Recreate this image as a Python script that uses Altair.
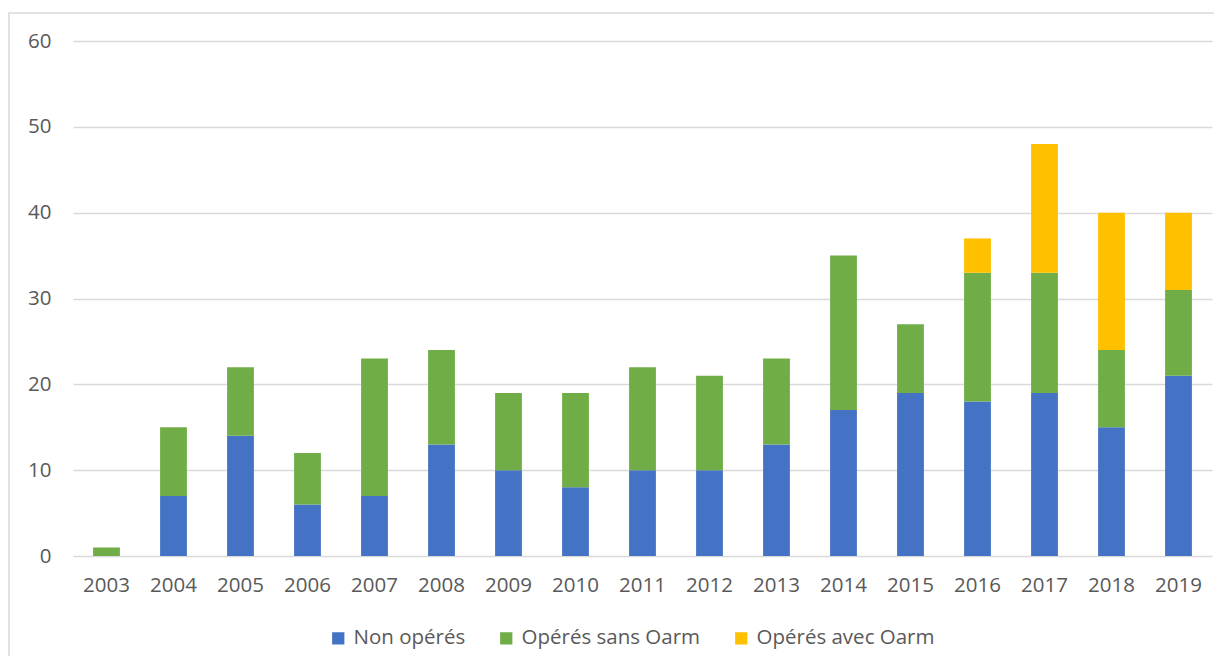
import altair as alt
import pandas as pd

years = [str(y) for y in range(2003, 2020)]
non_operes = [0, 7, 14, 6, 7, 13, 10, 8, 10, 10, 13, 17, 19, 18, 19, 15, 21]
sans_oarm = [1, 8, 8, 6, 16, 11, 9, 11, 12, 11, 10, 18, 8, 15, 14, 9, 10]
avec_oarm = [0, 0, 0, 0, 0, 0, 0, 0, 0, 0, 0, 0, 0, 4, 15, 16, 9]

series = ["Non opérés", "Opérés sans Oarm", "Opérés avec Oarm"]
colors = ["#4472C4", "#70AD47", "#FFC000"]

rows = []
for i, y in enumerate(years):
    for k, (name, vals) in enumerate(zip(series, [non_operes, sans_oarm, avec_oarm])):
        rows.append({"year": y, "serie": name, "value": vals[i], "ord": k})
df = pd.DataFrame(rows)

W, H = 1139, 515
FONT = "Open Sans"
FS = 20.5

bars = alt.Chart(df).mark_bar().encode(
    x=alt.X("year:N", sort=years, title=None,
            scale=alt.Scale(paddingInner=0.6, paddingOuter=0.3),
            axis=alt.Axis(labelAngle=0, ticks=False, domain=False, grid=False,
                          labelPadding=19, labelFontSize=FS, labelColor="#595959",
                          labelFont=FONT)),
    y=alt.Y("value:Q", stack="zero", title=None,
            scale=alt.Scale(domain=[0, 60], nice=False),
            axis=alt.Axis(values=[0, 10, 20, 30, 40, 50, 60], ticks=False, domain=False,
                          gridColor="#d9d9d9", gridWidth=1.3, labelPadding=22,
                          labelFontSize=FS, labelColor="#595959", labelFont=FONT)),
    color=alt.Color("serie:N", scale=alt.Scale(domain=series, range=colors),
                    legend=alt.Legend(title=None, orient="none", direction="horizontal",
                                      legendX=255, legendY=587, symbolType="square",
                                      symbolSize=150, symbolStrokeWidth=0,
                                      labelFontSize=FS, labelColor="#595959",
                                      labelFont=FONT, columnPadding=30,
                                      labelOffset=5, labelLimit=400)),
    order=alt.Order("ord:Q", sort="ascending"),
)

frame = alt.Chart(pd.DataFrame({"a": [0]})).mark_rect(
    fill=None, stroke="#d9d9d9", strokeWidth=1.5, clip=False
).encode(
    x=alt.value(-64), x2=alt.value(1400), y=alt.value(-28), y2=alt.value(900)
)

chart = alt.layer(frame, bars).properties(
    width=W, height=H,
    autosize=alt.AutoSizeParams(type="none"),
    padding={"left": 65, "top": 33, "right": 2, "bottom": 100},
    background="white",
).configure_view(stroke=None)

chart.save("out.html", embed_options={"renderer": "svg", "actions": False})
